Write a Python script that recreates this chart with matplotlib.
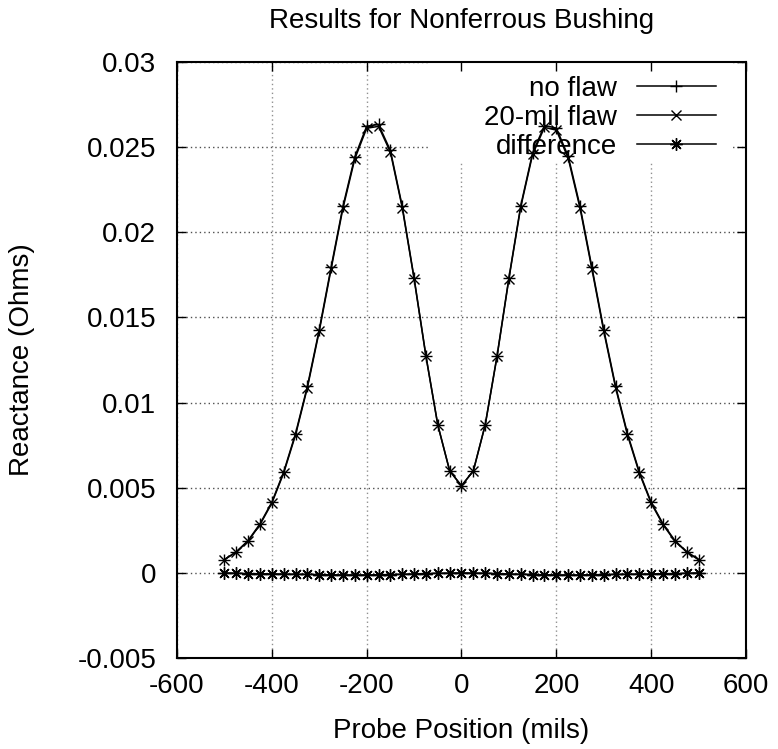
import matplotlib
matplotlib.use("Agg")
import matplotlib.pyplot as plt
from matplotlib.patches import Rectangle
from matplotlib.ticker import FixedLocator, FixedFormatter

plt.rcParams['font.family'] = ['Liberation Sans', 'DejaVu Sans']
plt.rcParams['axes.unicode_minus'] = False

# ---- data ----
positions = [-500, -475, -450, -425, -400, -375, -350, -325, -300, -275, -250,
             -225, -200, -175, -150, -125, -100, -75, -50, -25, 0,
             25, 50, 75, 100, 125, 150, 175, 200, 225, 250,
             275, 300, 325, 350, 375, 400, 425, 450, 475, 500]

no_flaw = [0.00078, 0.00124, 0.00190, 0.00288, 0.00415, 0.00593, 0.00818, 0.01096, 0.01429, 0.01795, 0.02153,
           0.02443, 0.02623, 0.02633, 0.02481, 0.02153, 0.01733, 0.01275, 0.00870, 0.00600, 0.00511,
           0.00600, 0.00870, 0.01275, 0.01733, 0.02157, 0.02467, 0.02627, 0.02612, 0.02447, 0.02153,
           0.01795, 0.01429, 0.01096, 0.00818, 0.00593, 0.00415, 0.00288, 0.00190, 0.00124, 0.00078]

flaw_20mil = [0.00078, 0.00122, 0.00186, 0.00283, 0.00409, 0.00586, 0.00810, 0.01087, 0.01419, 0.01784, 0.02141,
              0.02431, 0.02611, 0.02622, 0.02471, 0.02145, 0.01727, 0.01271, 0.00868, 0.00599, 0.00511,
              0.00599, 0.00868, 0.01271, 0.01727, 0.02149, 0.02457, 0.02616, 0.02600, 0.02435, 0.02141,
              0.01784, 0.01419, 0.01087, 0.00810, 0.00586, 0.00409, 0.00283, 0.00186, 0.00122, 0.00078]

difference = [0.0, -0.00002, -0.00004, -0.00005, -0.00006, -0.00007, -0.00008, -0.00009, -0.00010, -0.00011, -0.00012,
              -0.00012, -0.00012, -0.00011, -0.00010, -0.00008, -0.00006, -0.00004, -0.00002, -0.00001, 0.0,
              -0.00001, -0.00002, -0.00004, -0.00006, -0.00008, -0.00010, -0.00011, -0.00012, -0.00012, -0.00012,
              -0.00011, -0.00010, -0.00009, -0.00008, -0.00007, -0.00006, -0.00005, -0.00004, -0.00002, 0.0]

series_labels = ['no flaw', '20-mil flaw', 'difference']

x_ticks = [-600, -400, -200, 0, 200, 400, 600]
x_tick_labels = ['-600', '-400', '-200', '0', '200', '400', '600']
y_ticks = [-0.005, 0.0, 0.005, 0.01, 0.015, 0.02, 0.025, 0.03]
y_tick_labels = ['-0.005', '0', '0.005', '0.01', '0.015', '0.02', '0.025', '0.03']

title = 'Results for Nonferrous Bushing'
x_label = 'Probe Position (mils)'
y_label = 'Reactance (Ohms)'

# ---- figure ----
W, H = 778, 749
fig = plt.figure(figsize=(W / 100, H / 100), dpi=100)
L, R, T, B = 177, 746, 62, 658
ax = fig.add_axes([L / W, 1 - B / H, (R - L) / W, (B - T) / H])

ax.set_xlim(-600, 600)
ax.set_ylim(-0.005, 0.03)

# grid (drawn manually so the key box can hide it)
for xv in x_ticks:
    ax.axvline(xv, color='#909090', lw=1.0, ls=(0, (1, 2.2)), zorder=0.5)
for yv in y_ticks:
    ax.axhline(yv, color='#505050', lw=1.0, ls=(0, (1, 2.2)), zorder=0.5)

# key background box (hides grid like gnuplot's key)
kx0 = (430 - L) / (R - L)
kx1 = (733 - L) / (R - L)
ky0 = (B - 161) / (B - T)
ax.add_patch(Rectangle((kx0, ky0), kx1 - kx0, 1.0 - ky0, transform=ax.transAxes,
                       facecolor='white', edgecolor='none', zorder=1))

ms = 8.5
lw = 1.1
ax.plot(positions, no_flaw, color='black', lw=lw, marker='+', ms=ms, mew=1.0,
        label=series_labels[0], zorder=2)
ax.plot(positions, flaw_20mil, color='black', lw=lw, marker='x', ms=ms * 0.8, mew=1.0,
        label=series_labels[1], zorder=2)
ax.plot(positions, difference, color='black', lw=lw, marker=(8, 2, 0), ms=ms * 1.05, mew=1.0,
        label=series_labels[2], zorder=2)

ax.xaxis.set_major_locator(FixedLocator(x_ticks))
ax.xaxis.set_major_formatter(FixedFormatter(x_tick_labels))
ax.yaxis.set_major_locator(FixedLocator(y_ticks))
ax.yaxis.set_major_formatter(FixedFormatter(y_tick_labels))
ax.tick_params(axis='both', which='major', direction='in', length=6.5, width=1.0,
               top=True, right=True, labelsize=20, colors='black')
ax.tick_params(axis='y', pad=15)
ax.tick_params(axis='x', pad=11)
for s in ax.spines.values():
    s.set_linewidth(1.5)
    s.set_zorder(3)

leg = ax.legend(loc='upper right', bbox_to_anchor=((716 - L) / (R - L), (B - 76) / (B - T)),
                frameon=False, markerfirst=False, fontsize=20, handlelength=2.85,
                handletextpad=0.72, labelspacing=0.1, borderpad=0, borderaxespad=0)
leg.set_zorder(1.5)

ax.set_xlabel(x_label, fontsize=20)
ax.xaxis.label.set_va('baseline')
ax.xaxis.set_label_coords(0.5, (B - 738) / (B - T))
ax.set_ylabel(y_label, fontsize=20)
ax.yaxis.label.set_va('center')
ax.yaxis.set_label_coords((22 - L) / (R - L), 0.5)
ax.set_title(title, fontsize=20, y=(B - 28) / (B - T), pad=0, va='baseline')

fig.savefig('out.png', dpi=100)
